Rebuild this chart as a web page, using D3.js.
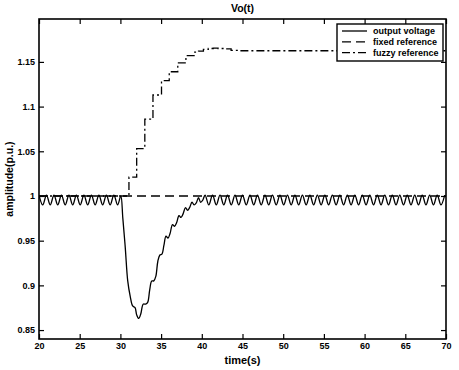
<!DOCTYPE html>
<html>
<head>
<meta charset="utf-8">
<script src="https://cdn.jsdelivr.net/npm/d3@7"></script>
<style>
  body { margin: 0; background: #fff; }
  svg text { font-family: "Liberation Sans", Arial, sans-serif; font-weight: bold; fill: #000; }
</style>
</head>
<body>
<div id="chart"></div>
<script>
// valori
const xTicks = [20, 25, 30, 35, 40, 45, 50, 55, 60, 65, 70];
const yTicks = [0.85, 0.9, 0.95, 1, 1.05, 1.1, 1.15];
const yTickLabels = ["0.85", "0.9", "0.95", "1", "1.05", "1.1", "1.15"];

// ondulazione prima del transitorio (campioni ogni mezzo periodo)
const rippleStep = 0.46;
const ripplePreStart = 20;
const ripplePre = [1.001, 0.990, 1.001, 0.990, 1.001, 0.990, 1.001, 0.990, 1.001, 0.990, 1.001,
  0.990, 1.001, 0.990, 1.001, 0.990, 1.001, 0.990, 1.001, 0.990, 1.001, 0.990];

// transitorio della tensione di uscita
const transT = [30.05, 30.3, 30.6, 30.9, 31.2, 31.5, 31.8, 32.0, 32.25, 32.5, 32.8, 33.1, 33.35, 33.6,
  33.85, 34.1, 34.35, 34.6, 34.85, 35.1, 35.35, 35.6, 35.85, 36.1, 36.4, 36.65, 36.9, 37.2, 37.45,
  37.7, 38.0, 38.25, 38.5, 38.8, 39.05, 39.3, 39.6, 39.85, 40.1, 40.4];
const transV = [1.000, 0.975, 0.942, 0.905, 0.888, 0.877, 0.875, 0.867, 0.863, 0.868, 0.879, 0.879,
  0.881, 0.895, 0.905, 0.905, 0.910, 0.927, 0.934, 0.935, 0.945, 0.955, 0.953, 0.958, 0.968, 0.966,
  0.970, 0.978, 0.976, 0.980, 0.987, 0.984, 0.987, 0.993, 0.990, 0.992, 0.998, 0.993, 0.995, 1.001];

// ondulazione dopo il transitorio
const ripplePostStart = 40.86;
const ripplePost = [0.990, 1.001, 0.990, 1.001, 0.990, 1.001, 0.990, 1.001, 0.990, 1.001, 0.990, 1.001,
  0.990, 1.001, 0.990, 1.001, 0.990, 1.001, 0.990, 1.001, 0.990, 1.001, 0.990, 1.001, 0.990, 1.001,
  0.990, 1.001, 0.990, 1.001, 0.990, 1.001, 0.990, 1.001, 0.990, 1.001, 0.990, 1.001, 0.990, 1.001,
  0.990, 1.001, 0.990, 1.001, 0.990, 1.001, 0.990, 1.001, 0.990, 1.001, 0.990, 1.001, 0.990, 1.001,
  0.990, 1.001, 0.990, 1.001, 0.990, 1.001, 0.990, 1.001, 0.990, 1.001];

// riferimento fisso
const fixedT = [20, 70];
const fixedV = [1, 1];

// riferimento fuzzy
const fuzzyT = [20, 31.05, 32.0, 33.0, 34.0, 35.05, 36.0, 37.05, 38.05, 39.05, 39.6, 40.2, 40.8, 41.4,
  42.0, 42.8, 43.6, 44.5, 46, 50, 60, 70];
const fuzzyV = [1.0, 1.021, 1.053, 1.086, 1.113, 1.129, 1.139, 1.149, 1.157, 1.161, 1.162, 1.164,
  1.165, 1.1655, 1.165, 1.1645, 1.163, 1.1625, 1.1625, 1.1625, 1.1625, 1.1625];

const legendLabels = ["output voltage", "fixed reference", "fuzzy reference"];

function drawChart() {
  const width = 459, height = 370;
  const margin = { top: 19, right: 13, bottom: 31, left: 39 };
  const w = width - margin.left - margin.right;
  const h = height - margin.top - margin.bottom;

  const svg = d3.select("#chart").append("svg")
      .attr("width", width)
      .attr("height", height);

  const g = svg.append("g")
      .attr("transform", `translate(${margin.left},${margin.top})`);

  const x = d3.scaleLinear().domain([20, 70]).range([0, w]);
  const y = d3.scaleLinear().domain([0.84, 1.198]).range([h, 0]);

  // costruzione serie tensione di uscita
  const outData = [];
  ripplePre.forEach((v, i) => outData.push([ripplePreStart + i * rippleStep, v]));
  transT.forEach((t, i) => outData.push([t, transV[i]]));
  ripplePost.forEach((v, i) => outData.push([ripplePostStart + i * rippleStep, v]));

  const fixedData = fixedT.map((t, i) => [t, fixedV[i]]);
  const fuzzyData = fuzzyT.map((t, i) => [t, fuzzyV[i]]);

  g.append("clipPath").attr("id", "clip")
    .append("rect").attr("width", w).attr("height", h);

  const plot = g.append("g").attr("clip-path", "url(#clip)");

  const line = d3.line().x(d => x(d[0])).y(d => y(d[1]));

  plot.append("path")
      .datum(fixedData)
      .attr("d", line)
      .attr("fill", "none")
      .attr("stroke", "#000")
      .attr("stroke-width", 1.3)
      .attr("stroke-dasharray", "9,5");

  plot.append("path")
      .datum(outData)
      .attr("d", line.curve(d3.curveCatmullRom))
      .attr("fill", "none")
      .attr("stroke", "#000")
      .attr("stroke-width", 1.3);

  plot.append("path")
      .datum(fuzzyData)
      .attr("d", d3.line().x(d => x(d[0])).y(d => y(d[1])).curve(d3.curveStepAfter))
      .attr("fill", "none")
      .attr("stroke", "#000")
      .attr("stroke-width", 1.3)
      .attr("stroke-dasharray", "8,3,2,3");

  // assi con tacche interne su tutti i lati
  const tickLen = 5;
  const xb = g.append("g").attr("transform", `translate(0,${h})`)
      .call(d3.axisBottom(x).tickValues(xTicks).tickSizeInner(-tickLen).tickSizeOuter(0).tickPadding(4));
  const xt = g.append("g")
      .call(d3.axisTop(x).tickValues(xTicks).tickSizeInner(-tickLen).tickSizeOuter(0).tickFormat(""));
  const yl = g.append("g")
      .call(d3.axisLeft(y).tickValues(yTicks).tickSizeInner(-tickLen).tickSizeOuter(0).tickPadding(4)
        .tickFormat((d, i) => yTickLabels[i]));
  const yr = g.append("g").attr("transform", `translate(${w},0)`)
      .call(d3.axisRight(y).tickValues(yTicks).tickSizeInner(-tickLen).tickSizeOuter(0).tickFormat(""));

  [xb, xt, yl, yr].forEach(a => {
    a.select(".domain").remove();
    a.selectAll("line").attr("stroke", "#000").attr("stroke-width", 1.2);
    a.selectAll("text").style("font-size", "9px");
  });

  g.append("rect")
      .attr("width", w).attr("height", h)
      .attr("fill", "none")
      .attr("stroke", "#000")
      .attr("stroke-width", 1.6);

  // titolo ed etichette
  svg.append("text")
      .attr("x", margin.left + w / 2).attr("y", 12)
      .attr("text-anchor", "middle")
      .style("font-size", "10.5px")
      .text("Vo(t)");

  svg.append("text")
      .attr("x", margin.left + w / 2).attr("y", 364)
      .attr("text-anchor", "middle")
      .style("font-size", "11px")
      .text("time(s)");

  svg.append("text")
      .attr("transform", `translate(13,${margin.top + h / 2}) rotate(-90)`)
      .attr("text-anchor", "middle")
      .style("font-size", "10.5px")
      .text("amplitude(p.u.)");

  // legenda
  const leg = svg.append("g").attr("transform", "translate(337,24)");
  leg.append("rect")
      .attr("width", 106).attr("height", 37)
      .attr("fill", "#fff")
      .attr("stroke", "#000")
      .attr("stroke-width", 1.4);
  const dashes = [null, "9,5", "8,3,2,3"];
  legendLabels.forEach((lab, i) => {
    const ly = 7 + i * 10.8;
    leg.append("line")
        .attr("x1", 5).attr("x2", 30)
        .attr("y1", ly).attr("y2", ly)
        .attr("stroke", "#000")
        .attr("stroke-width", 1.3)
        .attr("stroke-dasharray", dashes[i]);
    leg.append("text")
        .attr("x", 36).attr("y", ly + 3)
        .style("font-size", "9px")
        .text(lab);
  });
}

if (document.readyState === "loading") {
  document.addEventListener("DOMContentLoaded", drawChart);
} else {
  drawChart();
}
</script>
</body>
</html>
